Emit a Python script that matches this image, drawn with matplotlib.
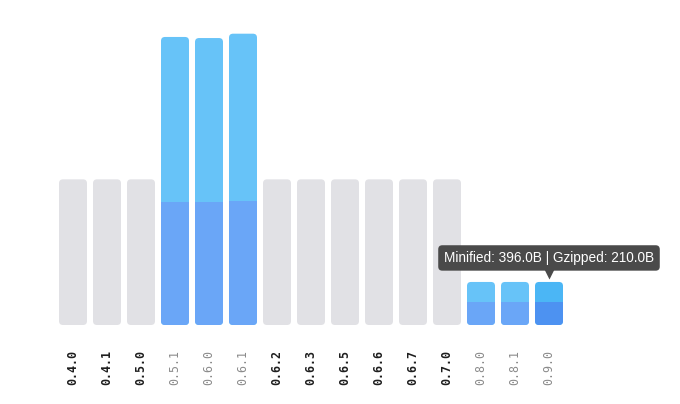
import matplotlib.pyplot as plt
from matplotlib.patches import FancyBboxPatch, Rectangle

versions = ['0.4.0', '0.4.1', '0.5.0', '0.5.1', '0.6.0', '0.6.1', '0.6.2', '0.6.3',
            '0.6.5', '0.6.6', '0.6.7', '0.7.0', '0.8.0', '0.8.1', '0.9.0']
# sizes in bytes, None = no data (drawn as gray placeholder)
minified = [None, None, None, 2650, 2640, 2680, None, None,
            None, None, None, None, 396, 396, 396]
gzipped = [None, None, None, 1130, 1130, 1140, None, None,
           None, None, None, None, 210, 210, 210]
hovered = '0.9.0'

W, H = 680, 404
bpp = 9.2          # bytes per pixel
step_px = 34
fig = plt.figure(figsize=(W / 100, H / 100), dpi=100)
base_px = 325
ax = fig.add_axes([0, (H - base_px) / H, 1, base_px / H])
ax.set_xlim(-73 / step_px, (W - 73) / step_px)
ax.set_ylim(0, base_px * bpp)
ax.axis('off')

bw = 28 / step_px
r = 4 / step_px
aspect = bpp * step_px
top = max(v for v in minified if v is not None)
placeholder = top / 2

for i, v in enumerate(versions):
    x0 = i - bw / 2
    if minified[i] is None:
        p = FancyBboxPatch((x0 + r, r * aspect), bw - 2 * r, placeholder - 2 * r * aspect,
                           boxstyle='round,pad=%f,rounding_size=%f' % (r, r),
                           mutation_aspect=aspect, fc='#e1e1e5', ec='none')
        ax.add_patch(p)
        continue
    c1, c2 = ('#4bb6f5', '#4d92f1') if v == hovered else ('#67c3f8', '#6aa6f7')
    p = FancyBboxPatch((x0 + r, r * aspect), bw - 2 * r, minified[i] - 2 * r * aspect,
                       boxstyle='round,pad=%f,rounding_size=%f' % (r, r),
                       mutation_aspect=aspect, fc=c1, ec='none')
    ax.add_patch(p)
    g = Rectangle((x0, 0), bw, gzipped[i], fc=c2, ec='none')
    ax.add_patch(g)
    g.set_clip_path(p)

# version labels
for i, v in enumerate(versions):
    has = minified[i] is not None
    ax.text(i, -25 * bpp, v, rotation=90, ha='center', va='top',
            family='DejaVu Sans Mono', fontsize=8.4,
            color='#8a8a8a' if has else '#1e1e1e',
            weight='normal' if has else 'bold', clip_on=False)

# tooltip over hovered bar
hi = versions.index(hovered)
tip = 'Minified: %.1fB | Gzipped: %.1fB' % (minified[hi], gzipped[hi])
ty = minified[hi] + 24 * bpp
ax.text(hi, ty, tip, ha='center', va='center', color='white', fontsize=9.8,
        family='Liberation Sans',
        bbox=dict(boxstyle='round,pad=0.42,rounding_size=0.3', fc='#4a4a4a', ec='none'))
ax.plot([hi], [minified[hi] + 9 * bpp], marker='v', ms=9, color='#4a4a4a', mec='none')

fig.savefig('out.png', dpi=100)
